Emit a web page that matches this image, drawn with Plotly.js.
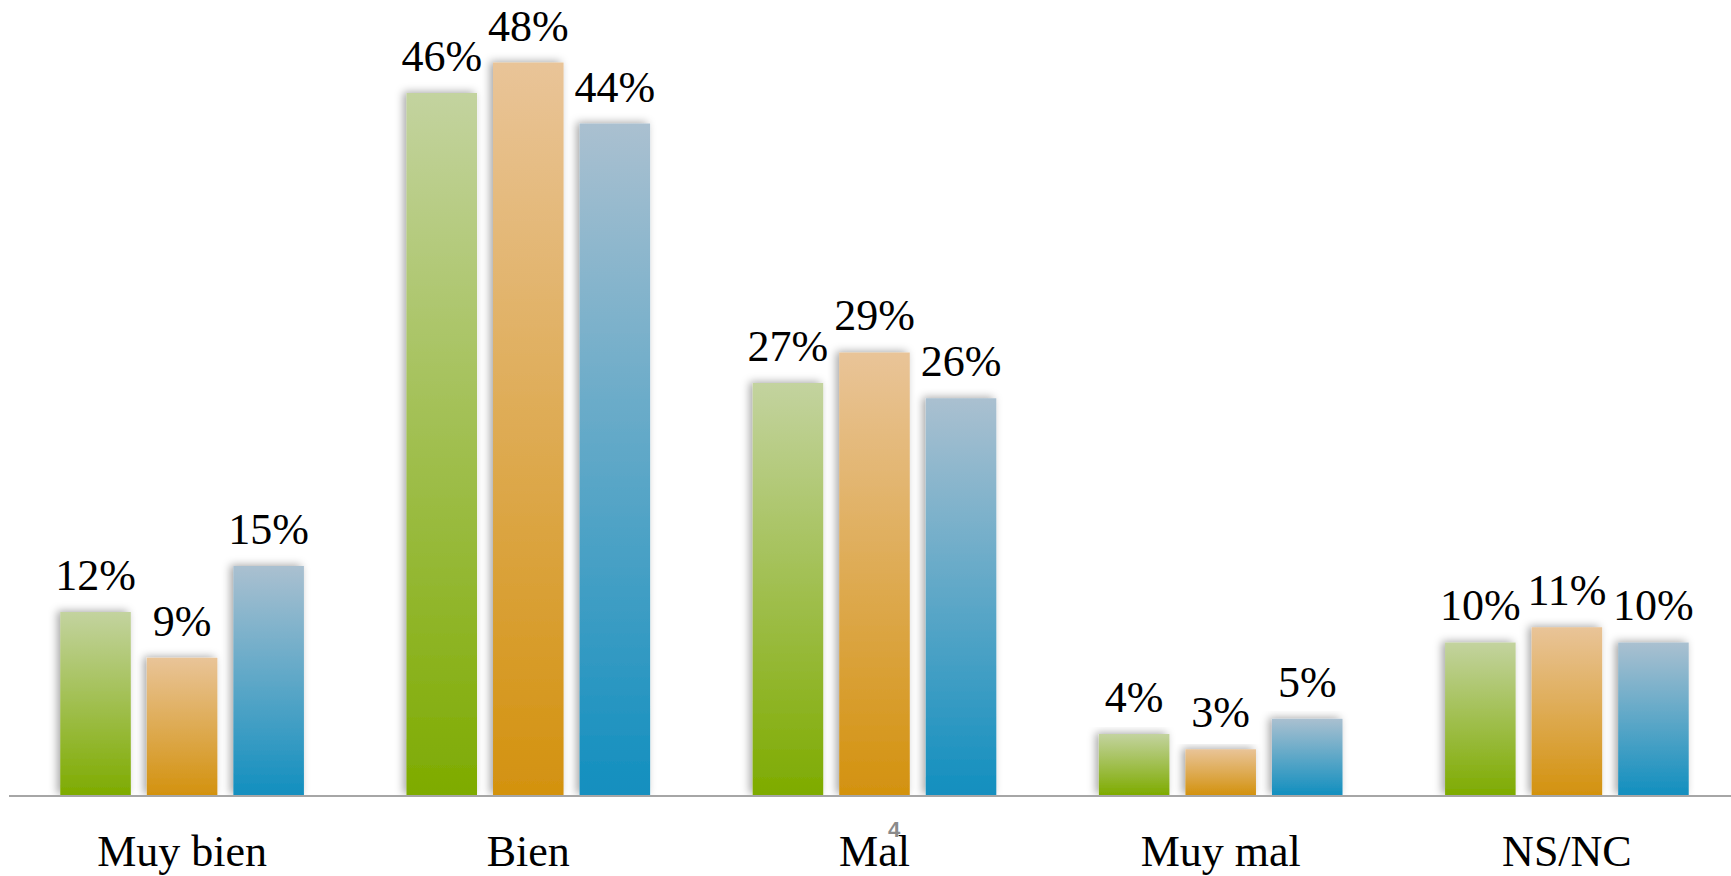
<!DOCTYPE html>
<html>
<head>
<meta charset="utf-8">
<script src="https://cdn.plot.ly/plotly-3.0.1.min.js"></script>
<style>
  html, body { margin: 0; padding: 0; background: #ffffff; }
  #chart { width: 1731px; height: 876px; }
</style>
</head>
<body>
<div id="chart"></div>
<script>
// ---- data ----
const categories = ['Muy bien', 'Bien', 'Mal', 'Muy mal', 'NS/NC'];
const serieVerde = [12, 46, 27, 4, 10];
const serieNaranja = [9, 48, 29, 3, 11];
const serieAzul = [15, 44, 26, 5, 10];
const pageNumber = '4';

// ---- styles ----
const palette = [
  { id: 'gVerde', top: '#c3d39f', bottom: '#7eab00', flat: '#9fbf4f' },
  { id: 'gNaranja', top: '#e9c498', bottom: '#d3920f', flat: '#e0ac5a' },
  { id: 'gAzul', top: '#aac0d0', bottom: '#128fbf', flat: '#64a5c8' }
];
const series = [serieVerde, serieNaranja, serieAzul];
const serifFont = 'Liberation Serif, Times New Roman, serif';
const labelLift = 9;

const traces = series.map((vals, i) => ({
  type: 'bar',
  x: categories,
  y: vals,
  name: 'Serie ' + (i + 1),
  marker: { color: palette[i].flat, line: { width: 0 } },
  texttemplate: '%{y}%',
  textposition: 'outside',
  constraintext: 'none',
  cliponaxis: false,
  textfont: { family: serifFont, size: 44, color: '#000000' },
  hoverinfo: 'none',
  showlegend: false
}));

const layout = {
  width: 1731,
  height: 876,
  margin: { l: 9, r: 0, t: 0, b: 81, pad: 0 },
  paper_bgcolor: '#ffffff',
  plot_bgcolor: '#ffffff',
  barmode: 'group',
  bargap: 0.25,
  bargroupgap: 0.185,
  showlegend: false,
  font: { family: serifFont, color: '#000000' },
  xaxis: {
    type: 'category',
    range: [-0.5, 4.474],
    showline: true,
    linecolor: '#a6a6a6',
    linewidth: 2,
    ticks: '',
    showgrid: false,
    zeroline: false,
    tickfont: { family: serifFont, size: 44, color: '#000000' },
    ticklabelstandoff: 16,
    fixedrange: true
  },
  yaxis: {
    range: [0, 52.1],
    visible: false,
    showgrid: false,
    zeroline: false,
    fixedrange: true
  },
  annotations: [{
    text: '<b>' + pageNumber + '</b>',
    xref: 'paper', yref: 'paper',
    x: 0.514, y: -0.044,
    xanchor: 'center', yanchor: 'middle',
    showarrow: false,
    font: { family: 'Liberation Sans, Arial, sans-serif', size: 22, color: '#8a8a8a' }
  }]
};

function applyGradients(gd) {
  const svg = gd.querySelector('svg.main-svg');
  if (!svg) return;
  const ns = 'http://www.w3.org/2000/svg';
  let defs = svg.querySelector('defs#customDefs');
  if (!defs) {
    defs = document.createElementNS(ns, 'defs');
    defs.setAttribute('id', 'customDefs');
    palette.forEach(p => {
      const lg = document.createElementNS(ns, 'linearGradient');
      lg.setAttribute('id', p.id);
      lg.setAttribute('x1', '0'); lg.setAttribute('y1', '0');
      lg.setAttribute('x2', '0'); lg.setAttribute('y2', '1');
      [[0, p.top], [1, p.bottom]].forEach(([o, c]) => {
        const st = document.createElementNS(ns, 'stop');
        st.setAttribute('offset', o);
        st.setAttribute('stop-color', c);
        lg.appendChild(st);
      });
      defs.appendChild(lg);
    });
    const f = document.createElementNS(ns, 'filter');
    f.setAttribute('id', 'barShadow');
    f.setAttribute('x', '-30%'); f.setAttribute('y', '-10%');
    f.setAttribute('width', '160%'); f.setAttribute('height', '120%');
    const ds = document.createElementNS(ns, 'feDropShadow');
    ds.setAttribute('dx', '-3'); ds.setAttribute('dy', '-1');
    ds.setAttribute('stdDeviation', '4');
    ds.setAttribute('flood-color', '#000000');
    ds.setAttribute('flood-opacity', '0.35');
    f.appendChild(ds);
    defs.appendChild(f);
    svg.insertBefore(defs, svg.firstChild);
  }
  const traceGroups = gd.querySelectorAll('g.trace.bars');
  traceGroups.forEach((tg, i) => {
    const p = palette[i % palette.length];
    tg.querySelectorAll('g.point path').forEach(path => {
      path.style.fill = 'url(#' + p.id + ')';
      path.style.filter = 'url(#barShadow)';
    });
    tg.querySelectorAll('g.point text').forEach(t => {
      if (t.getAttribute('data-lifted')) return;
      const tr = t.getAttribute('transform') || '';
      t.setAttribute('transform', 'translate(0,' + (-labelLift) + ') ' + tr);
      t.setAttribute('data-lifted', '1');
    });
  });
}

const gd = document.getElementById('chart');
Plotly.newPlot(gd, traces, layout, { displayModeBar: false, staticPlot: true }).then(() => {
  applyGradients(gd);
  gd.on && gd.on('plotly_afterplot', () => applyGradients(gd));
});
</script>
</body>
</html>
